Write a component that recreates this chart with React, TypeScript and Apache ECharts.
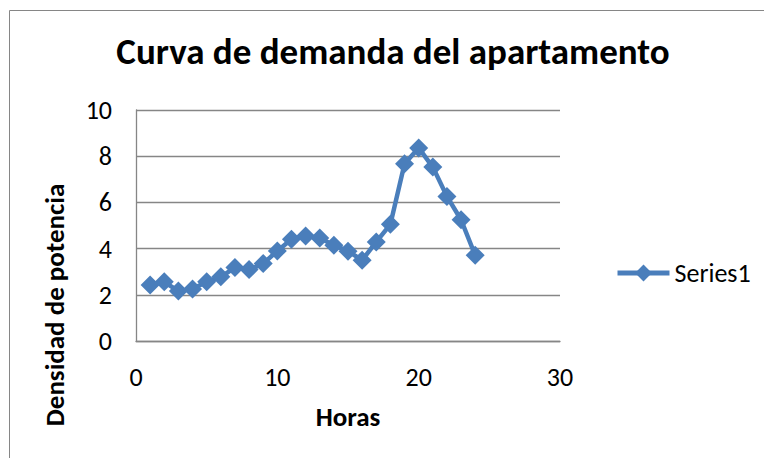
import React, { useEffect, useRef } from "react";
import * as echarts from "echarts";

const hours = [1, 2, 3, 4, 5, 6, 7, 8, 9, 10, 11, 12, 13, 14, 15, 16, 17, 18, 19, 20, 21, 22, 23, 24];
const density = [2.42, 2.56, 2.16, 2.25, 2.56, 2.78, 3.18, 3.09, 3.35, 3.9, 4.4, 4.55, 4.46, 4.15, 3.89, 3.5, 4.29, 5.05, 7.67, 8.36, 7.53, 6.26, 5.25, 3.71];
const seriesName = "Series1";
const titleText = "Curva de demanda del apartamento";
const xName = "Horas";
const yName = "Densidad de potencia";

const FONT = "Carlito, 'Liberation Sans Narrow', 'Open Sans', sans-serif";
const BLUE = "#4A7EBB";
const GRAY = "#868686";

export default function App() {
  const ref = useRef<HTMLDivElement>(null);
  useEffect(() => {
    if (!ref.current) return;
    const chart = echarts.init(ref.current, null, { renderer: "svg" });
    chart.setOption({
      animation: false,
      backgroundColor: "#fff",
      title: {
        text: titleText,
        left: 393,
        textAlign: "center",
        top: 33,
        padding: 0,
        textStyle: { fontFamily: FONT, fontWeight: "bold", fontSize: 37, color: "#000" },
      },
      legend: {
        left: 615,
        top: 260,
        padding: 0,
        itemWidth: 52,
        itemHeight: 21,
        lineStyle: { width: 5 },
        textStyle: { fontFamily: FONT, fontSize: 26, color: "#000" },
        data: [seriesName],
      },
      grid: { left: 136, right: 204, top: 110, bottom: 117 },
      xAxis: {
        type: "value",
        min: 0,
        max: 30,
        interval: 10,
        name: xName,
        nameLocation: "middle",
        nameGap: 62,
        nameTextStyle: { fontFamily: FONT, fontWeight: "bold", fontSize: 27, color: "#000" },
        axisLine: { show: true, lineStyle: { color: GRAY, width: 1.3 } },
        axisTick: { show: false },
        splitLine: { show: false },
        axisLabel: { fontFamily: FONT, fontSize: 26, color: "#000", margin: 23 },
      },
      yAxis: {
        type: "value",
        min: 0,
        max: 10,
        interval: 2,
        axisLine: { show: true, lineStyle: { color: GRAY, width: 1.3 } },
        axisTick: { show: false },
        splitLine: { show: true, lineStyle: { color: GRAY, width: 1.3 } },
        axisLabel: { fontFamily: FONT, fontSize: 26, color: "#000", margin: 24 },
      },
      graphic: [
        {
          type: "rect",
          shape: { x: 9.5, y: 10.5, width: 800, height: 500 },
          style: { fill: "none", stroke: GRAY, lineWidth: 1 },
          silent: true,
        },
        {
          type: "text",
          x: 54,
          y: 305,
          rotation: Math.PI / 2,
          style: {
            text: yName,
            fontFamily: FONT,
            fontWeight: "bold",
            fontSize: 27,
            fill: "#000",
            align: "center",
            verticalAlign: "middle",
          },
        },
      ],
      series: [
        {
          name: seriesName,
          type: "line",
          data: hours.map((h, i) => [h, density[i]]),
          symbol: "diamond",
          symbolSize: 19,
          lineStyle: { color: BLUE, width: 4.5 },
          itemStyle: { color: BLUE },
        },
      ],
    });
    return () => chart.dispose();
  }, []);
  return <div ref={ref} style={{ width: 764, height: 458, position: "absolute", left: 0, top: 0 }} />;
}
